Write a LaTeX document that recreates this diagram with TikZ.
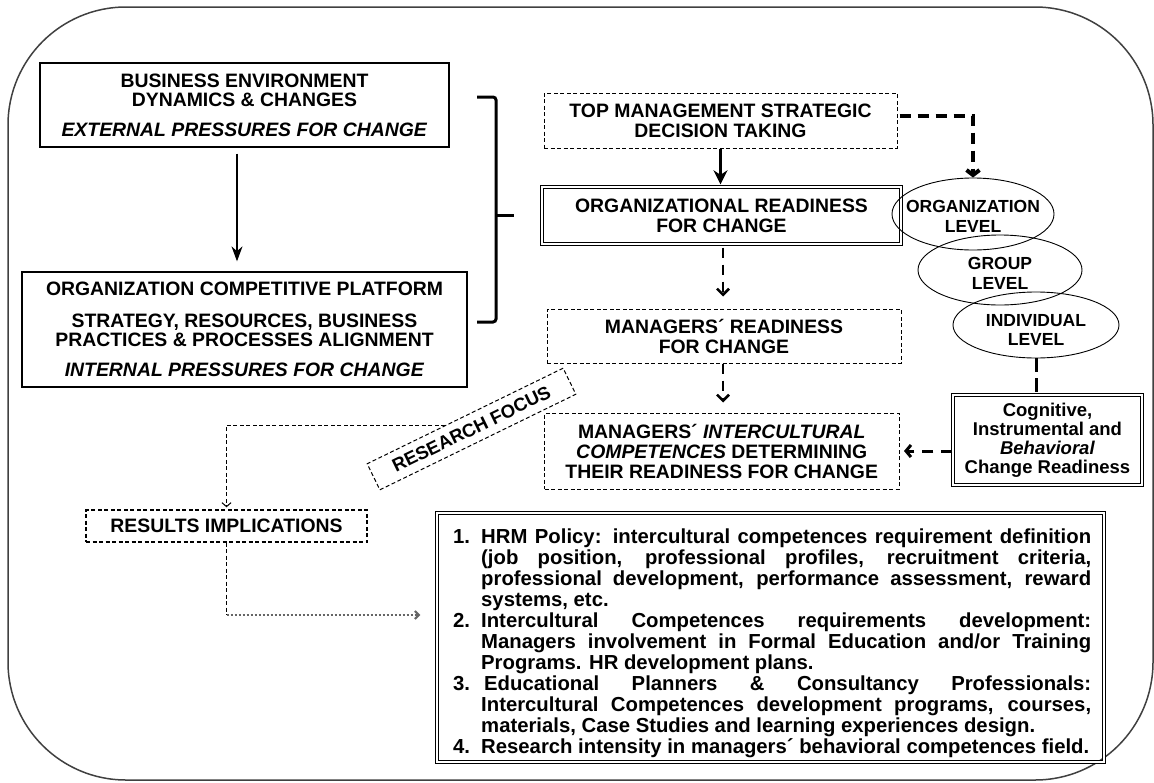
\documentclass[tikz,border=0pt]{standalone}
\usepackage{fontspec}
\setmainfont{Liberation Sans}
\usetikzlibrary{arrows.meta,shapes.geometric,calc}
\newcommand\litem[2]{\par\noindent\hangindent=28pt\hangafter=1\makebox[28pt][l]{#1}#2\par}
\begin{document}
\begin{tikzpicture}[x=1pt,y=-1pt,
  hdr/.style={font=\fontsize{19.4}{20}\selectfont\bfseries, align=center},
  solidbox/.style={draw, line width=1.3pt, inner sep=0pt},
  dashbox/.style={draw, line width=1pt, dash pattern=on 4pt off 2.5pt, inner sep=0pt},
  dblbox/.style={draw, line width=1.4pt, double distance=1.3pt, inner sep=0pt},
  lvl/.style={draw, ellipse, line width=0.9pt, inner sep=0pt},
  lvltext/.style={font=\fontsize{17.5}{19.5}\selectfont\bfseries, align=center, inner sep=0pt},
  thinarrow/.style={line width=1pt, dash pattern=on 4pt off 2.5pt},
]
\useasboundingbox (0,0) rectangle (1154,782);
% outer frame
\draw[line width=1.5pt, black!75, rounded corners=118pt] (8,7) rectangle (1153,780);

% left column
\node[solidbox, hdr, minimum width=409pt, minimum height=84pt] (BE) at (244.5,105)
  {BUSINESS ENVIRONMENT\\[-1pt]DYNAMICS \& CHANGES\\[10pt]\textit{EXTERNAL PRESSURES FOR CHANGE}};
\node[solidbox, hdr, minimum width=445pt, minimum height=115pt] (OCP) at (244.5,329.5)
  {ORGANIZATION COMPETITIVE PLATFORM\\[12pt]STRATEGY, RESOURCES, BUSINESS\\[-1pt]PRACTICES \& PROCESSES ALIGNMENT\\[10pt]\textit{INTERNAL PRESSURES FOR CHANGE}};
\draw[line width=1.3pt, -{Stealth[length=15pt,width=11pt]}]
  ([xshift=-7.5pt,yshift=-6pt]BE.south) -- ([xshift=-7.5pt,yshift=10pt]OCP.north);

% bracket
\coordinate (brT) at (477,97);
\coordinate (brB) at (477,322);
\draw[line width=3pt, rounded corners=3pt] (brT) -- ++(19,0) -- ++(0,225) -- (brB);
\draw[line width=3pt] (496,215) -- (514,215);

% centre column
\node[dashbox, hdr, minimum width=353pt, minimum height=55pt] (TOP) at (720.5,120.5)
  {TOP MANAGEMENT STRATEGIC\\DECISION TAKING};
\node[dblbox, hdr, minimum width=359pt, minimum height=57pt] (ORG) at (721.5,215.5)
  {ORGANIZATIONAL READINESS\\FOR CHANGE};
\node[dashbox, hdr, minimum width=354pt, minimum height=54pt] (MR) at (724,336)
  {MANAGERS´ READINESS\\FOR CHANGE};
\node[dashbox, hdr, minimum width=354.5pt, minimum height=76pt] (MIC) at (721.75,451)
  {MANAGERS´ \textit{INTERCULTURAL}\\\textit{COMPETENCES} DETERMINING\\THEIR READINESS FOR CHANGE};

\draw[line width=3pt, -{Stealth[length=14pt,width=14pt]}]
  (TOP.south) -- ([yshift=2pt]TOP.south |- ORG.north);
\draw[line width=2.5pt, dash pattern=on 10pt off 7pt, -{Straight Barb[length=6pt,width=12pt]}]
  ([xshift=1.5pt,yshift=-3pt]ORG.south) -- ([xshift=1.5pt,yshift=12pt]ORG.south |- MR.north);
\draw[line width=2.5pt, dash pattern=on 10pt off 7pt, -{Straight Barb[length=6pt,width=12pt]}]
  ([xshift=-1pt]MR.south) -- ([xshift=-1pt,yshift=10pt]MR.south |- MIC.north);

% levels
\node[lvl, minimum width=162pt, minimum height=72pt] (LORG) at (973,214) {};
\node[lvl, minimum width=164pt, minimum height=70pt] (LGRP) at (1000,270) {};
\node[lvl, minimum width=166pt, minimum height=66pt] (LIND) at (1036,325) {};
\node[lvltext] (LORGt) at ([yshift=-2.5pt]LORG.center) {ORGANIZATION\\LEVEL};
\node[lvltext] (LGRPt) at ([yshift=-3.5pt]LGRP.center) {GROUP\\LEVEL};
\node[lvltext] (LINDt) at ([yshift=-5pt]LIND.center) {INDIVIDUAL\\LEVEL};

\draw[line width=4pt, dash pattern=on 11pt off 7pt, -{Straight Barb[length=5pt,width=13pt]}]
  ([xshift=2pt,yshift=4.5pt]TOP.east) -| (LORG.north);

\node[dblbox, font=\fontsize{18.5}{19}\selectfont\bfseries, align=center,
      minimum width=189pt, minimum height=90pt] (COG) at (1047.5,440)
  {Cognitive,\\Instrumental and\\\textit{Behavioral}\\Change Readiness};
\draw[line width=3pt, dash pattern=on 14pt off 6pt] (LIND.south) -- (LIND.south |- COG.north);
\draw[line width=3pt, dash pattern=on 11pt off 8pt, -{Straight Barb[length=5pt,width=12pt]}]
  (COG.west |- MIC.east) -- ([xshift=4.5pt]MIC.east);

% research focus and results
\node[dashbox, rotate=26, font=\fontsize{18.5}{19}\selectfont\bfseries,
      minimum width=218pt, minimum height=29pt] (RF) at (471.5,429) {RESEARCH FOCUS};
\node[dashbox, line width=1.3pt, hdr, minimum width=281pt, minimum height=32pt] (RES) at (226.5,526)
  {RESULTS IMPLICATIONS};
\draw[thinarrow, -{Straight Barb[length=4pt,width=9pt]}]
  ($(RF.north west)!0.4!(RF.north east)$) -| ([yshift=2pt]RES.north);

\node[dblbox, minimum width=667pt, minimum height=249pt] (LIST) at (770.5,637.5) {};
\node[anchor=north west, inner sep=0pt, text width=638pt, align=justify,
      font=\fontsize{20.3}{21}\selectfont\bfseries] (LISTT) at (453,522)
  {\tolerance=10000\hbadness=10000\hyphenpenalty=10000\parindent=0pt
   \litem{1.}{HRM Policy: intercultural competences requirement definition\linebreak (job position, professional profiles, recruitment criteria,\linebreak professional development, performance assessment, reward\linebreak systems, etc.}
   \litem{2.}{Intercultural Competences requirements development:\linebreak Managers involvement in Formal Education and/or Training\linebreak Programs. HR development plans.}
   \litem{3.}{\hspace{3pt}Educational Planners \& Consultancy Professionals:\linebreak Intercultural Competences development programs, courses,\linebreak materials, Case Studies and learning experiences design.}
   \litem{4.}{Research intensity in managers´ behavioral competences field.}};

\coordinate (ARRE) at ([xshift=-16pt,yshift=22.5pt]LIST.west);
\draw[thinarrow] (RES.south) -- (RES.south |- ARRE);
\draw[line width=2pt, black!60, dash pattern=on 2.5pt off 1.5pt, -{Straight Barb[length=4pt,width=8pt]}]
  (RES.south |- ARRE) -- (ARRE);
\end{tikzpicture}
\end{document}
